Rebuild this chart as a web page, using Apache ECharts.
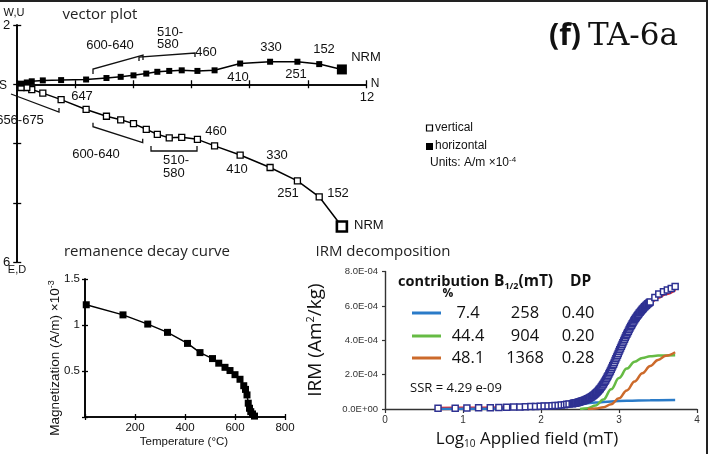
<!DOCTYPE html>
<html><head><meta charset="utf-8">
<script src="https://cdn.jsdelivr.net/npm/echarts@6/dist/echarts.min.js"></script>
<style>html,body{margin:0;padding:0;background:#fff}#c{width:713px;height:454px}</style>
</head><body><div id="c"></div>
<script>
// ---------- DATA ----------
// Vector (Zijderveld) plot, units A/m x1e-4, listed from NRM to the last step
const vecNorth      = [11.17, 10.39, 9.64, 8.70, 7.67, 6.79, 6.20, 5.66, 5.23, 4.82, 4.44, 4.00, 3.56, 3.07, 2.37, 1.51, 0.88, 0.50, 0.33, 0.13];
const vecHorizontal = [0.50, 0.68, 0.76, 0.76, 0.70, 0.47, 0.45, 0.47, 0.45, 0.42, 0.36, 0.30, 0.25, 0.21, 0.16, 0.14, 0.13, 0.10, 0.06, 0.02];
const vecVertical   = [-4.80, -3.80, -3.26, -2.81, -2.39, -2.08, -1.86, -1.79, -1.81, -1.69, -1.52, -1.33, -1.20, -1.08, -0.85, -0.52, -0.30, -0.18, -0.11, -0.11];
const vecYTickLabels = {'2': '2', '-6': '6'};
const vecXEndLabel = '12';

// Remanence decay curve
const decayTemp = [5, 152, 251, 330, 410, 460, 510, 535, 560, 580, 600, 620, 635, 642, 648, 653, 658, 663, 670, 678];
const decayMag  = [1.22, 1.11, 1.01, 0.92, 0.80, 0.70, 0.635, 0.585, 0.54, 0.505, 0.46, 0.41, 0.34, 0.30, 0.24, 0.15, 0.095, 0.058, 0.033, 0.01];
const decayXTicks = [200, 400, 600, 800];
const decayYTicks = ['0.5', '1', '1.5'];

// IRM acquisition (values in units of 1e-4 Am2/kg)
const irmField = [0.68,0.90,1.05,1.20,1.35,1.46,1.56,1.65,1.73,1.80,1.87,1.93,1.99,2.04,2.09,2.14,2.18,2.22,2.26,2.30,2.33,2.36,
  2.40,2.41,2.42,2.43,2.44,2.45,2.46,2.47,2.48,2.49,2.50,2.51,2.52,2.53,2.54,2.55,2.56,2.57,2.58,2.59,
  2.60,2.61,2.62,2.63,2.64,2.65,2.66,2.67,2.68,2.69,2.70,2.71,2.72,2.73,2.74,2.75,2.76,2.77,2.78,2.79,
  2.80,2.81,2.82,2.83,2.84,2.85,2.86,2.87,2.88,2.89,2.90,2.91,2.92,2.93,2.94,2.95,2.96,2.97,2.98,2.99,
  3.00,3.01,3.02,3.03,3.04,3.05,3.06,3.07,3.08,3.09,3.10,3.11,3.12,3.13,3.14,3.15,3.16,3.17,3.18,3.19,
  3.20,3.21,3.22,3.23,3.24,3.25,3.26,3.27,3.28,3.29,3.30,3.31,3.32,3.33,3.34,3.35,3.36,3.37,3.38,3.39,3.40,
  3.46,3.51,3.57,3.62,3.67,3.72];
const irmValue = [0.04,0.05,0.06,0.07,0.08,0.09,0.10,0.11,0.12,0.13,0.14,0.15,0.16,0.17,0.18,0.19,0.20,0.21,0.23,0.25,0.27,0.29,
  0.31,0.32,0.33,0.34,0.35,0.36,0.37,0.38,0.39,0.405,0.42,0.435,0.45,0.465,0.48,0.495,0.51,0.53,0.55,0.57,
  0.59,0.615,0.64,0.665,0.69,0.72,0.75,0.785,0.82,0.86,0.90,0.945,0.99,1.04,1.09,1.145,1.20,1.26,1.32,1.39,
  1.46,1.535,1.61,1.69,1.77,1.855,1.94,2.03,2.12,2.215,2.31,2.41,2.51,2.61,2.71,2.815,2.92,3.025,3.13,3.235,
  3.34,3.445,3.55,3.655,3.76,3.86,3.96,4.06,4.16,4.255,4.35,4.44,4.53,4.62,4.71,4.795,4.88,4.96,5.04,5.115,
  5.19,5.26,5.33,5.395,5.46,5.52,5.58,5.635,5.69,5.745,5.80,5.85,5.90,5.945,5.99,6.035,6.08,6.12,6.16,6.195,6.23,
  6.49,6.69,6.82,6.92,7.01,7.13];
const fitField = [0.68,1.0,1.5,1.8,2.0,2.2,2.4,2.5,2.6,2.7,2.8,2.9,3.0,3.1,3.2,3.3,3.4,3.5,3.6,3.72];
const fitValue = [0.03,0.04,0.06,0.08,0.10,0.16,0.27,0.37,0.53,0.84,1.40,2.25,3.28,4.30,5.13,5.75,6.20,6.50,6.72,6.95];
const comp1Field = [0.68,1.2,1.6,1.9,2.1,2.3,2.5,2.7,2.9,3.1,3.4,3.72];
const comp1Value = [0.0,0.01,0.03,0.08,0.14,0.21,0.30,0.38,0.44,0.48,0.51,0.52];
const comp2Field = [2.5,2.6,2.7,2.8,2.9,3.0,3.1,3.2,3.3,3.4,3.5,3.72];
const comp2Value = [0.0,0.05,0.20,0.55,1.15,1.80,2.35,2.75,2.97,3.07,3.11,3.13];
const comp3Field = [2.6,2.7,2.8,2.9,3.0,3.1,3.2,3.3,3.4,3.5,3.6,3.72];
const comp3Value = [0.0,0.03,0.10,0.28,0.62,1.08,1.60,2.08,2.50,2.85,3.10,3.30];
const componentTable = [
  ['7.4', '258', '0.40'],
  ['44.4', '904', '0.20'],
  ['48.1', '1368', '0.28']
];

// ---------- STYLE ----------
const SANS = '"Liberation Sans", Arial, sans-serif';
const HUM = '"Open Sans", sans-serif';
const C_BLUE = '#2a7bc8', C_GREEN = '#66bb44', C_ORANGE = '#cc6a2b', C_RED = '#e3262e', C_NAVY = '#2e3192';

const zip = (a, b) => a.map((v, i) => [v, b[i]]);

function txt(x, y, text, opt) {
  return {type: 'text', x: x, y: y, silent: true, z: 50,
    style: Object.assign({text: text, fill: '#111', font: '13px ' + SANS, textAlign: 'center', textVerticalAlign: 'middle', align: 'center', verticalAlign: 'middle'}, opt || {})};
}
function pl(points, w) {
  return {type: 'polyline', silent: true, z: 50, shape: {points: points}, style: {stroke: '#111', lineWidth: w || 1.3, fill: null}};
}

const chart = echarts.init(document.getElementById('c'));

const axLine = {color: '#000', width: 1.6};
function vAxisPair(grid, dim, min, max, interval, labelFn, tickLen) {
  const pos = dim === 'x' ? ['bottom', 'top'] : ['left', 'right'];
  const a = {
    gridIndex: grid, type: 'value', min: min, max: max, interval: interval, position: pos[0],
    axisLine: {show: true, onZero: true, lineStyle: axLine},
    axisTick: {show: true, length: tickLen, lineStyle: {color: '#000', width: 1.3}},
    axisLabel: labelFn ? {show: true, formatter: labelFn, color: '#111', fontFamily: SANS, fontSize: 12, showMinLabel: true, showMaxLabel: true} : {show: false},
    splitLine: {show: false}
  };
  const b = {
    gridIndex: grid, type: 'value', min: min, max: max, interval: interval, position: pos[1],
    axisLine: {show: true, onZero: true, lineStyle: axLine},
    axisTick: {show: true, length: tickLen, lineStyle: {color: '#000', width: 1.3}},
    axisLabel: {show: false}, splitLine: {show: false}
  };
  return [a, b];
}

const vx = vAxisPair(0, 'x', 0, 12, 2, null, 4);
const vy = vAxisPair(0, 'y', -6, 2, 2, v => vecYTickLabels[String(v)] || '', 4);
vy[0].axisLabel.margin = 7; vy[0].axisLabel.fontSize = 13;
const dx = vAxisPair(1, 'x', 0, 800, 200, v => decayXTicks.indexOf(v) >= 0 ? String(v) : '', 3);
dx[0].axisLabel.margin = 5; dx[0].axisLabel.fontSize = 11.5;
const dy = vAxisPair(1, 'y', 0, 1.5, 0.5, v => decayYTicks.indexOf(String(v)) >= 0 ? String(v) : '', 3);
dy[0].axisLabel.margin = 5; dy[0].axisLabel.fontSize = 11.5;

const irmX = {
  gridIndex: 2, type: 'value', min: 0, max: 4, interval: 1, position: 'bottom',
  axisLine: {show: true, onZero: false, lineStyle: {color: '#333', width: 1.4}},
  axisTick: {show: true, length: 4, lineStyle: {color: '#333', width: 1.2}},
  axisLabel: {color: '#333', fontFamily: SANS, fontSize: 10, margin: 6, showMinLabel: true, showMaxLabel: true},
  splitLine: {show: false}
};
const irmY = {
  gridIndex: 2, type: 'value', min: 0, max: 8, interval: 2, position: 'left',
  axisLine: {show: true, onZero: false, lineStyle: {color: '#333', width: 1.4}},
  axisTick: {show: true, length: 3, lineStyle: {color: '#333', width: 1.2}},
  axisLabel: {color: '#333', fontFamily: SANS, fontSize: 9.5, margin: 7, showMinLabel: true, showMaxLabel: true,
    formatter: v => v === 0 ? '0.0E+00' : v.toFixed(1) + 'E-04'},
  splitLine: {show: false}
};

const vertData = vecNorth.map((n, i) => i === 0 ? {value: [n, vecVertical[i]], symbolSize: 10, itemStyle: {borderWidth: 2.6}} : [n, vecVertical[i]]);
const horData = vecNorth.map((n, i) => i === 0 ? {value: [n, vecHorizontal[i]], symbolSize: 10} : [n, vecHorizontal[i]]);

const graphics = [
  // frame
  {type: 'line', silent: true, shape: {x1: 0, y1: 1, x2: 708, y2: 1}, style: {stroke: '#222', lineWidth: 2}},
  {type: 'line', silent: true, shape: {x1: 707, y1: 0, x2: 707, y2: 454}, style: {stroke: '#222', lineWidth: 2}},
  // titles
  txt(100, 15, 'vector plot', {font: '15px ' + HUM, fill: '#222'}),
  txt(147, 252, 'remanence decay curve', {font: '15px ' + HUM, fill: '#222'}),
  txt(383, 252, 'IRM decomposition', {font: '15px ' + HUM, fill: '#222'}),
  txt(581, 36, '(f)', {font: 'bold 30px ' + HUM, fill: '#111', textAlign: 'right', align: 'right'}),
  txt(588, 37, 'TA-6a', {font: '31px "DejaVu Serif", serif', fill: '#111', textAlign: 'left', align: 'left'}),
  // vector axes labels
  txt(14, 13, 'W,U', {font: '11px ' + SANS}),
  txt(17, 270, 'E,D', {font: '11px ' + SANS}),
  txt(3, 86, 'S', {font: '12px ' + SANS}),
  txt(375, 84, 'N', {font: '12px ' + SANS}),
  txt(367, 97, vecXEndLabel, {font: '13px ' + SANS}),
  // vector legend
  {type: 'rect', silent: true, shape: {x: 426.5, y: 125, width: 6, height: 6}, style: {fill: '#fff', stroke: '#000', lineWidth: 1.2}},
  {type: 'rect', silent: true, shape: {x: 426, y: 143, width: 7, height: 7}, style: {fill: '#000'}},
  txt(435, 128, 'vertical', {font: '12px ' + SANS, textAlign: 'left', align: 'left'}),
  txt(435, 146, 'horizontal', {font: '12px ' + SANS, textAlign: 'left', align: 'left'}),
  txt(430, 163, '{a|Units: A/m \u00d710}{b|-4}', {textAlign: 'left', align: 'left',
    rich: {a: {font: '12px ' + SANS, fill: '#111', lineHeight: 14}, b: {font: '8px ' + SANS, fill: '#111', verticalAlign: 'top', lineHeight: 14}}}),
  // temperature labels, upper (horizontal projection)
  txt(110, 45, '600-640'), txt(157, 32, '510-', {textAlign: 'left', align: 'left'}), txt(157, 44, '580', {textAlign: 'left', align: 'left'}),
  txt(206, 52, '460'), txt(271, 47, '330'), txt(324, 49, '152'), txt(366, 57, 'NRM'),
  txt(238, 77, '410'), txt(296, 74, '251'), txt(82, 96, '647'),
  // lower (vertical projection)
  txt(20, 120, '656-675'), txt(96, 154, '600-640'), txt(163, 160, '510-', {textAlign: 'left', align: 'left'}), txt(163, 173, '580', {textAlign: 'left', align: 'left'}),
  txt(216, 131, '460'), txt(237, 169, '410'), txt(277, 155, '330'), txt(288, 193, '251'), txt(338, 193, '152'),
  txt(354, 225, 'NRM', {textAlign: 'left', align: 'left'}),
  // brackets
  pl([[93, 74], [93, 69], [143, 55], [143, 60]]),
  pl([[139, 61], [139, 57], [195, 53], [195, 57]]),
  pl([[11, 94], [59, 112], [59, 108]]),
  pl([[93, 122.7], [93, 126.7], [142.7, 142.7], [142.7, 138.7]]),
  pl([[151, 146], [151, 151], [197, 151], [197, 146]]),
  // decay axis titles
  {type: 'text', silent: true, x: 55, y: 358, rotation: Math.PI / 2, z: 50,
    style: {text: '{a|Magnetization (A/m) \u00d710}{b|-3}', textAlign: 'center', align: 'center', textVerticalAlign: 'middle', verticalAlign: 'middle',
      rich: {a: {font: '13.5px ' + SANS, fill: '#111', lineHeight: 16}, b: {font: '9px ' + SANS, fill: '#111', verticalAlign: 'top', lineHeight: 16}}}},
  txt(184, 442, 'Temperature (\u00b0C)', {font: '11.5px ' + SANS}),
  // IRM axis titles
  {type: 'text', silent: true, x: 316, y: 340, rotation: Math.PI / 2, z: 50,
    style: {text: '{a|IRM (Am}{b|2}{a|/kg)}', textAlign: 'center', align: 'center', textVerticalAlign: 'middle', verticalAlign: 'middle',
      rich: {a: {font: '19px ' + HUM, fill: '#111', lineHeight: 22}, b: {font: '11px ' + HUM, fill: '#111', verticalAlign: 'top', lineHeight: 22}}}},
  txt(527, 439, '{a|Log}{b|10}{a| Applied field (mT)}', {
    rich: {a: {font: '17px ' + HUM, fill: '#111', lineHeight: 20}, b: {font: '10px ' + HUM, fill: '#111', verticalAlign: 'bottom', lineHeight: 20}}}),
  // IRM legend
  txt(398, 282, 'contribution', {font: 'bold 14.5px ' + HUM, textAlign: 'left', align: 'left'}),
  txt(448, 294, '%', {font: 'bold 12px ' + HUM}),
  txt(494, 282, '{a|B}{b|1/2}{a|(mT)}', {textAlign: 'left', align: 'left',
    rich: {a: {font: 'bold 15.5px ' + HUM, fill: '#111', lineHeight: 18}, b: {font: 'bold 9px ' + HUM, fill: '#111', verticalAlign: 'bottom', lineHeight: 18}}}),
  txt(570, 282, 'DP', {font: 'bold 15.5px ' + HUM, textAlign: 'left', align: 'left'}),
  txt(410, 388, 'SSR = 4.29 e-09', {font: '13px ' + HUM, textAlign: 'left', align: 'left'})
];
const rowY = [313, 336, 358];
const rowColor = [C_BLUE, C_GREEN, C_ORANGE];
componentTable.forEach((row, i) => {
  graphics.push({type: 'line', silent: true, z: 50, shape: {x1: 412, y1: rowY[i], x2: 441, y2: rowY[i]}, style: {stroke: rowColor[i], lineWidth: 3}});
  graphics.push(txt(468, rowY[i], row[0], {font: '16.5px ' + HUM}));
  graphics.push(txt(525, rowY[i], row[1], {font: '16.5px ' + HUM}));
  graphics.push(txt(578, rowY[i], row[2], {font: '16.5px ' + HUM}));
});

const option = {
  animation: false,
  backgroundColor: '#fff',
  textStyle: {fontFamily: SANS},
  grid: [
    {left: 12, top: 25, width: 354, height: 237},
    {left: 85, top: 279, width: 200, height: 138},
    {left: 385, top: 271.5, width: 312, height: 137.5}
  ],
  xAxis: [vx[0], vx[1], dx[0], dx[1], irmX],
  yAxis: [vy[0], vy[1], dy[0], dy[1], irmY],
  series: [
    {type: 'line', name: 'vertical', xAxisIndex: 0, yAxisIndex: 0, data: vertData, symbol: 'rect', symbolSize: 6,
      itemStyle: {color: '#fff', borderColor: '#000', borderWidth: 1.3}, lineStyle: {color: '#000', width: 1.5}, z: 4},
    {type: 'line', name: 'horizontal', xAxisIndex: 0, yAxisIndex: 0, data: horData, symbol: 'rect', symbolSize: 6,
      itemStyle: {color: '#000'}, lineStyle: {color: '#000', width: 1.5}, z: 4},
    {type: 'line', name: 'decay', xAxisIndex: 2, yAxisIndex: 2, data: zip(decayTemp, decayMag), symbol: 'rect', symbolSize: 7,
      itemStyle: {color: '#000'}, lineStyle: {color: '#000', width: 1.5}, z: 4},
    {type: 'line', name: 'fit', xAxisIndex: 4, yAxisIndex: 4, data: zip(fitField, fitValue), symbol: 'none',
      smooth: 0.4, smoothMonotone: 'x', lineStyle: {color: C_RED, width: 3.5}, z: 3},
    {type: 'line', name: 'c1', xAxisIndex: 4, yAxisIndex: 4, data: zip(comp1Field, comp1Value), symbol: 'none',
      smooth: 0.4, smoothMonotone: 'x', lineStyle: {color: C_BLUE, width: 2.5}, z: 3},
    {type: 'line', name: 'c2', xAxisIndex: 4, yAxisIndex: 4, data: zip(comp2Field, comp2Value), symbol: 'none',
      smooth: 0.4, smoothMonotone: 'x', lineStyle: {color: C_GREEN, width: 2.5}, z: 3},
    {type: 'line', name: 'c3', xAxisIndex: 4, yAxisIndex: 4, data: zip(comp3Field, comp3Value), symbol: 'none',
      smooth: 0.4, smoothMonotone: 'x', lineStyle: {color: C_ORANGE, width: 2.5}, z: 3},
    {type: 'scatter', name: 'measured', xAxisIndex: 4, yAxisIndex: 4, data: zip(irmField, irmValue), symbol: 'rect', symbolSize: 6,
      itemStyle: {color: '#fff', borderColor: C_NAVY, borderWidth: 1.5, opacity: 1}, z: 5}
  ],
  graphic: graphics
};
chart.setOption(option);
</script>
</body></html>
